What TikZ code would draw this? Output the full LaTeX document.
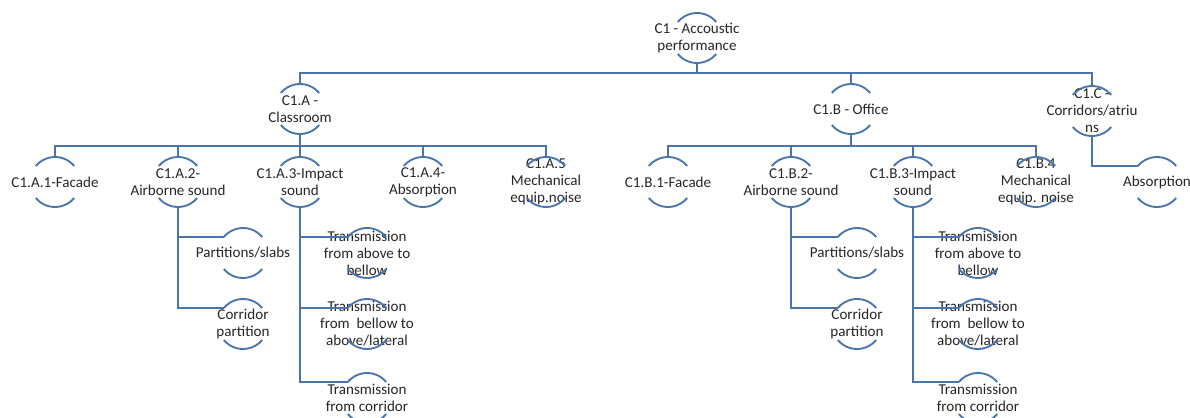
\documentclass[tikz,border=0pt]{standalone}
\usepackage{fontspec}
\setmainfont{Carlito}
\usetikzlibrary{positioning}
\definecolor{linkblue}{RGB}{74,116,172}
\definecolor{txtgray}{RGB}{38,38,38}

\begin{document}
\begin{tikzpicture}[x=0.75pt,y=-0.75pt,
		hub/.style={circle, minimum size=37.5pt, inner sep=0pt, outer sep=0pt},
		txt/.style={align=center, text=txtgray, inner sep=0pt, font=\fontsize{11.3}{12.8}\selectfont},
		conn/.style={draw=linkblue, line width=1.4pt},
		bow/.style={draw=linkblue, line width=1.4pt}]
					\useasboundingbox (0,0) rectangle (1190,418);

					% top levels
					\node[hub, label={[txt]center:{C1 - Accoustic\\performance}}] (root) at (697,38) {};
					\node[hub, label={[txt]center:{C1.A -\\Classroom}}] (ca) at (300,109) {};
					\node[hub, label={[txt]center:{C1.B - Office}}] (cb) at (851,109) {};
					\node[hub, label={[txt]center:{C1.C -\\Corridors/atriu\\ns}}] (cc) at (1092,111) {};

					% second level
					\node[hub, label={[txt]center:{C1.A.1-Facade}}] (a1) at (55,182) {};
					\node[hub, label={[txt]center:{C1.A.2-\\Airborne sound}}] (a2) at (178,182) {};
					\node[hub, label={[txt]center:{C1.A.3-Impact\\sound}}] (a3) at (300,182) {};
					\node[hub, label={[txt]center:{C1.A.4-\\Absorption}}] (a4) at (423,182) {};
					\node[hub, label={[txt]center:{C1.A.5\\Mechanical\\equip.noise}}] (a5) at (546,182) {};
					\node[hub, label={[txt]center:{C1.B.1-Facade}}] (b1) at (668,182) {};
					\node[hub, label={[txt]center:{C1.B.2-\\Airborne sound}}] (b2) at (791,182) {};
					\node[hub, label={[txt]center:{C1.B.3-Impact\\sound}}] (b3) at (913,182) {};
					\node[hub, label={[txt]center:{C1.B.4\\Mechanical\\equip. noise}}] (b4) at (1036,182) {};
					\node[hub, label={[txt]center:{Absorption}}] (cabs) at (1157,182) {};

					% third level
					\node[hub, label={[txt]center:{Partitions/slabs}}] (a2p) at (243,253) {};
					\node[hub, label={[txt]center:{Corridor\\partition}}] (a2c) at (243,324) {};
					\node[hub, label={[txt]center:{Transmission\\from above to\\bellow}}] (a3t1) at (367,253) {};
					\node[hub, label={[txt]center:{Transmission\\from~ bellow to\\above/lateral}}] (a3t2) at (367,324) {};
					\node[hub, label={[txt]center:{Transmission\\from corridor}}] (a3t3) at (367,398) {};
					\node[hub, label={[txt]center:{Partitions/slabs}}] (b2p) at (857,253) {};
					\node[hub, label={[txt]center:{Corridor\\partition}}] (b2c) at (857,324) {};
					\node[hub, label={[txt]center:{Transmission\\from above to\\bellow}}] (b3t1) at (978,253) {};
					\node[hub, label={[txt]center:{Transmission\\from~ bellow to\\above/lateral}}] (b3t2) at (978,324) {};
					\node[hub, label={[txt]center:{Transmission\\from corridor}}] (b3t3) at (978,398) {};

					\foreach \n in {root,ca,cb,cc,a1,a2,a3,a4,a5,b1,b2,b3,b4,cabs,a2p,a2c,a3t1,a3t2,a3t3,b2p,b2c,b3t1,b3t2,b3t3}
						\draw[bow] (\n.40) arc[start angle=40, end angle=140, radius=18.75pt]
							(\n.220) arc[start angle=220, end angle=320, radius=18.75pt];

					% buses
					\coordinate (bus0) at (697,73);
					\coordinate (busA) at (300,146);
					\coordinate (busB) at (851,146);
					\draw[conn] (root.south) -- (bus0);
					\draw[conn] (ca.south) -- (busA);
					\draw[conn] (cb.south) -- (busB);
					\foreach \c in {ca,cb,cc}
						\draw[conn] (bus0) -| (\c.north);
					\foreach \c in {a1,a2,a3,a4,a5}
						\draw[conn] (busA) -| (\c.north);
					\foreach \c in {b1,b2,b3,b4}
						\draw[conn] (busB) -| (\c.north);

					\path[conn]
					(cc.south) edge[to path={|- (\tikztotarget)}] (cabs.140)
					(a2.south) edge[to path={|- (\tikztotarget)}] (a2p.140)
					(a2.south) edge[to path={|- (\tikztotarget)}] (a2c.140)
					(a3.south) edge[to path={|- (\tikztotarget)}] (a3t1.140)
					(a3.south) edge[to path={|- (\tikztotarget)}] (a3t2.140)
					(a3.south) edge[to path={|- (\tikztotarget)}] (a3t3.140)
					(b2.south) edge[to path={|- (\tikztotarget)}] (b2p.140)
					(b2.south) edge[to path={|- (\tikztotarget)}] (b2c.140)
					(b3.south) edge[to path={|- (\tikztotarget)}] (b3t1.140)
					(b3.south) edge[to path={|- (\tikztotarget)}] (b3t2.140)
					(b3.south) edge[to path={|- (\tikztotarget)}] (b3t3.140)
					;
				\end{tikzpicture}
\end{document}
